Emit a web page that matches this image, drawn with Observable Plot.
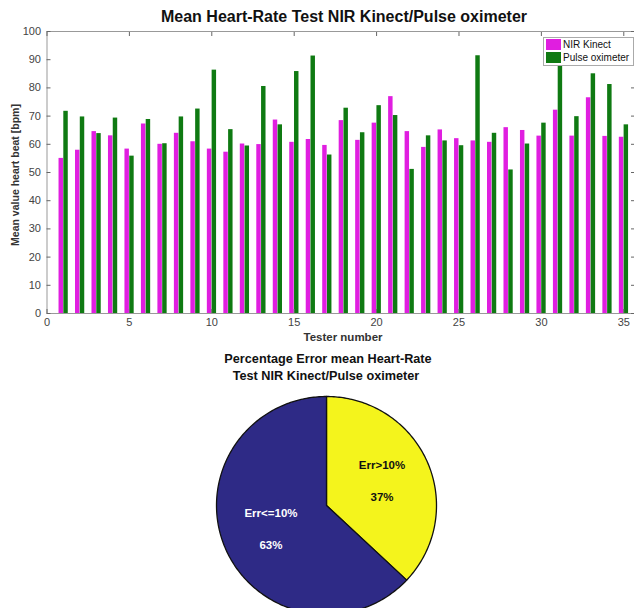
<!DOCTYPE html>
<html>
<head>
<meta charset="utf-8">
<script src="https://cdn.jsdelivr.net/npm/d3@7"></script>
<script src="https://cdn.jsdelivr.net/npm/@observablehq/plot@0.6"></script>
<style>
  html, body { margin: 0; padding: 0; background: #fff; overflow: hidden; }
  body { width: 634px; height: 608px; position: relative; font-family: "Liberation Sans", Arial, sans-serif; }
  .abs { position: absolute; }
  .title { font-weight: bold; color: #111; white-space: nowrap; transform: translateX(-50%); }
  #bars, #pie { position: absolute; left: 0; }
  #bars { top: 0; }
  #pie { top: 390px; }
  .legend { border: 1px solid #aaa; background: #fff; font-size: 10px; color: #111; padding: 1px 4px 1px 2px; line-height: 12.5px; white-space: nowrap; }
  .sw { display: inline-block; width: 15px; height: 11px; vertical-align: -2px; margin-right: 2px; }
</style>
</head>
<body>
<div id="bars"></div>
<div id="pie"></div>
<script>
// ---- data ----
const testers = [1,2,3,4,5,6,7,8,9,10,11,12,13,14,15,16,17,18,19,20,21,22,23,24,25,26,27,28,29,30,31,32,33,34,35];
const nirKinect = [55.0,57.9,64.5,63.0,58.3,67.2,60.0,63.9,60.9,58.3,57.2,60.1,59.9,68.6,60.7,61.7,59.6,68.4,61.4,67.5,76.9,64.5,58.9,65.1,62.0,61.2,60.7,65.9,64.9,62.9,72.1,62.9,76.5,62.8,62.5];
const pulseOximeter = [71.7,69.7,63.8,69.3,55.8,68.8,60.2,69.7,72.5,86.3,65.2,59.4,80.5,66.9,85.8,91.3,56.2,72.8,64.1,73.7,70.2,51.1,63.0,61.2,59.5,91.4,63.9,50.9,60.1,67.5,93.0,69.8,85.0,81.2,66.9];
const seriesNames = ["NIR Kinect", "Pulse oximeter"];
const seriesColors = ["#e01ee0", "#0f7a12"];
const xTicks = [0,5,10,15,20,25,30,35];
const yTicks = [0,10,20,30,40,50,60,70,80,90,100];

const pieLabels = ["Err>10%", "Err<=10%"];
const pieValues = [37, 63];
const pieColors = ["#f4f41c", "#2e2a86"];
const pieTextColors = ["#111", "#fff"];

const mainTitle = "Mean Heart-Rate Test NIR Kinect/Pulse oximeter";
const yLabel = "Mean value heart beat [bpm]";
const xLabel = "Tester number";
const pieTitle = ["Percentage Error mean Heart-Rate", "Test NIR Kinect/Pulse oximeter"];

// ---- bar chart ----
const rows = testers.map((t, i) => ({tester: t, nir: nirKinect[i], pulse: pulseOximeter[i]}));
const halfW = 0.27;

const bars = Plot.plot({
  width: 634, height: 345,
  marginLeft: 46.5, marginRight: 0, marginTop: 31, marginBottom: 32,
  style: {fontFamily: "Liberation Sans, Arial, sans-serif", fontSize: "11px", color: "#444", background: "#fff", overflow: "hidden"},
  x: {domain: [0, 35.65]},
  y: {domain: [0, 100]},
  marks: [
    Plot.rect(rows, {x1: d => d.tester - halfW, x2: d => d.tester, y1: 0, y2: "nir", fill: seriesColors[0]}),
    Plot.rect(rows, {x1: d => d.tester + 0.02, x2: d => d.tester + halfW + 0.02, y1: 0, y2: "pulse", fill: seriesColors[1]}),
    Plot.frame({stroke: "#999"}),
    Plot.axisX({anchor: "bottom", ticks: xTicks, tickSize: -4, tickPadding: 9, label: null, stroke: "#666"}),
    Plot.axisX({anchor: "top", ticks: xTicks, tickSize: -4, tickFormat: () => "", label: null, stroke: "#666"}),
    Plot.axisY({anchor: "left", ticks: yTicks, tickSize: -4, tickPadding: 10, label: null, stroke: "#666"}),
    Plot.axisY({anchor: "right", ticks: yTicks, tickSize: -4, tickFormat: () => "", label: null, stroke: "#666"})
  ]
});
document.getElementById("bars").appendChild(bars);

function addText(txt, x, y, css) {
  const el = document.createElement("div");
  el.className = "abs title";
  el.textContent = txt;
  el.style.left = x + "px";
  el.style.top = y + "px";
  Object.assign(el.style, css || {});
  document.body.appendChild(el);
  return el;
}
addText(mainTitle, 344, 8, {fontSize: "16px"});
addText(xLabel, 343, 331, {fontSize: "11.5px", color: "#333"});
const yl = addText(yLabel, 15, 175, {fontSize: "10.5px", color: "#333"});
yl.style.transform = "translate(-50%, -50%) rotate(-90deg)";
addText(pieTitle[0], 328, 352, {fontSize: "12.7px"});
addText(pieTitle[1], 326, 369, {fontSize: "12.7px"});

// legend
const lg = document.createElement("div");
lg.className = "abs legend";
lg.style.left = "543px"; lg.style.top = "37px";
lg.innerHTML = seriesNames.map((n, i) => `<div><span class="sw" style="background:${seriesColors[i]}"></span>${n}</div>`).join("");
document.body.appendChild(lg);

// ---- pie chart ----
const arcs = d3.pie().sort(null).value(d => d)(pieValues);
const slices = arcs.map((a, i) => {
  const n = Math.max(2, Math.ceil((a.endAngle - a.startAngle) * 60));
  const pts = [{x: 0, y: 0}];
  for (let k = 0; k <= n; k++) {
    const ang = a.startAngle + (a.endAngle - a.startAngle) * k / n;
    pts.push({x: Math.sin(ang), y: Math.cos(ang)});
  }
  pts.push({x: 0, y: 0});
  const mid = (a.startAngle + a.endAngle) / 2;
  return {pts, label: pieLabels[i], pct: Math.round(100 * pieValues[i] / d3.sum(pieValues)) + "%",
          lx: 0.55 * Math.sin(mid), ly: 0.55 * Math.cos(mid), color: pieColors[i], tc: pieTextColors[i]};
});

const pie = Plot.plot({
  width: 634, height: 226,
  marginLeft: 216, marginRight: 198, marginTop: 6, marginBottom: 2,
  style: {fontFamily: "Liberation Sans, Arial, sans-serif", background: "transparent", overflow: "visible"},
  x: {domain: [-1, 1], axis: null},
  y: {domain: [-1, 1], axis: null},
  marks: [
    ...slices.map(s => Plot.line(s.pts, {x: "x", y: "y", fill: s.color, stroke: "#111", strokeWidth: 1.3, curve: "linear"})),
    ...slices.map(s => Plot.text([s], {x: "lx", y: "ly", text: "label", dy: -16, fill: s.tc, fontSize: 11.5, fontWeight: "bold"})),
    ...slices.map(s => Plot.text([s], {x: "lx", y: "ly", text: "pct", dy: 16, fill: s.tc, fontSize: 11.5, fontWeight: "bold"}))
  ]
});
document.getElementById("pie").appendChild(pie);
</script>
</body>
</html>
